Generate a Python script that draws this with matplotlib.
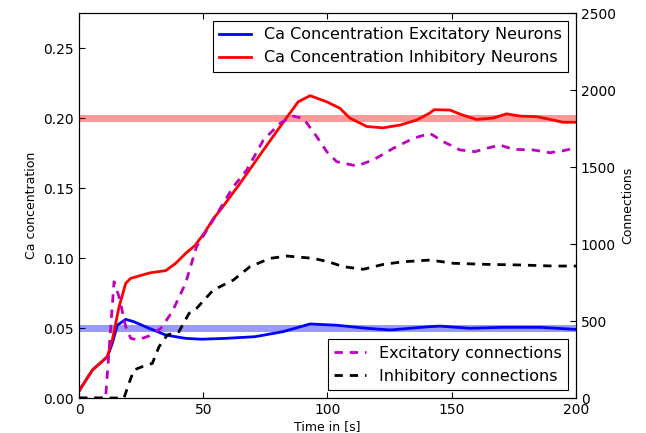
import matplotlib
matplotlib.use('Agg')
import matplotlib.pyplot as plt

# 数据
red_t = [0, 5.4, 11.4, 13.4, 16.1, 18.8, 20.8, 25.5, 28.8, 34.9, 38.9, 42.9, 46.7,
         50.5, 54, 57.4, 64.8, 72.8, 80.9, 88.2, 93, 99.7, 105, 109, 115.8, 122.3,
         129.2, 135.9, 141.2, 143, 149.3, 154.6, 160, 166.6, 172, 177.5, 184.2,
         190.8, 194.8, 200]
red_ca = [0.005, 0.020, 0.0295, 0.0414, 0.065, 0.082, 0.0855, 0.0879, 0.0895, 0.091,
          0.0962, 0.1033, 0.109, 0.118, 0.128, 0.1355, 0.1533, 0.1736, 0.1938,
          0.2116, 0.2160, 0.2116, 0.207, 0.200, 0.194, 0.193, 0.195, 0.1986, 0.2036,
          0.206, 0.2057, 0.202, 0.199, 0.200, 0.203, 0.2014, 0.201, 0.1986, 0.197,
          0.197]

blue_t = [0, 5.4, 11.4, 13.4, 15.4, 18.8, 22.1, 28.2, 34.9, 42.9, 49.4, 58.8, 70.8,
          82.1, 93, 103.7, 115.8, 125.2, 141.2, 145.3, 157.3, 170.6, 185.5, 200]
blue_ca = [0.005, 0.020, 0.0295, 0.039, 0.052, 0.0562, 0.0545, 0.0498, 0.045,
           0.0426, 0.042, 0.0426, 0.0438, 0.0474, 0.0529, 0.052, 0.0498, 0.0486,
           0.051, 0.0514, 0.0498, 0.0505, 0.0505, 0.049]

exc_t = [0, 10.7, 12.1, 14.1, 16.1, 18.8, 20.8, 23.5, 28.2, 32.9, 37.5, 42.9, 47.3,
         54, 62.1, 67.5, 74.2, 80.9, 86.2, 90.3, 95.7, 99.7, 103.7, 111.7, 118.4,
         126.5, 134.5, 141.2, 146.6, 153.3, 159.4, 164.1, 169.4, 174.8, 182.8,
         189.5, 194.9, 200]
exc_conn = [0, 0, 312, 755, 658, 463, 388, 377, 403, 452, 560, 746, 983, 1156,
            1372, 1481, 1675, 1784, 1831, 1816, 1697, 1600, 1535, 1507, 1546, 1622,
            1686, 1719, 1665, 1611, 1600, 1622, 1643, 1615, 1611, 1593, 1606, 1625]

inh_t = [0, 18.1, 20.1, 22.1, 25.5, 29.5, 32.2, 35.5, 40.2, 44.3, 47.3, 54, 62.1,
         68.8, 76.9, 83.6, 94.3, 100.3, 106.4, 114.4, 122.5, 130.5, 141.2, 150.6,
         164.1, 177.5, 190.9, 200]
inh_conn = [0, 0, 95, 182, 204, 225, 333, 409, 431, 550, 582, 701, 766, 853, 907,
            922, 907, 885, 853, 836, 868, 885, 896, 875, 868, 864, 857, 857]

target_exc = 0.05
target_inh = 0.2

plt.rcParams['xtick.direction'] = 'in'
plt.rcParams['ytick.direction'] = 'in'
plt.rcParams['xtick.top'] = True
plt.rcParams['xtick.major.size'] = 4
plt.rcParams['ytick.major.size'] = 4

fig = plt.figure(figsize=(6.46, 4.33), dpi=100)
ax = fig.add_axes([0.1223, 0.0808, 0.7693, 0.889])

ax.axhline(target_inh, color='red', alpha=0.4, linewidth=5)
ax.axhline(target_exc, color='blue', alpha=0.4, linewidth=5)
l1, = ax.plot(blue_t, blue_ca, color='blue', linewidth=2,
              label='Ca Concentration Excitatory Neurons')
l2, = ax.plot(red_t, red_ca, color='red', linewidth=2,
              label='Ca Concentration Inhibitory Neurons')
ax.set_xlim(0, 200)
ax.set_ylim(0, 0.275)
ax.set_yticks([0, 0.05, 0.10, 0.15, 0.20, 0.25])
ax.set_xticks([0, 50, 100, 150, 200])
ax.tick_params(labelsize=10)
ax.set_xlabel('Time in [s]', fontsize=9, labelpad=2)
ax.set_ylabel('Ca concentration', fontsize=9)
leg1 = ax.legend(handles=[l1, l2], loc='upper right', fontsize=11.5,
                 fancybox=False, edgecolor='black', framealpha=1)
leg1.get_frame().set_linewidth(0.8)

ax2 = ax.twinx()
l3, = ax2.plot(exc_t, exc_conn, color='m', linewidth=2, linestyle='--',
               dashes=(3, 2.5), label='Excitatory connections')
l4, = ax2.plot(inh_t, inh_conn, color='k', linewidth=2, linestyle='--',
               dashes=(3, 2.5), label='Inhibitory connections')
ax2.set_ylim(0, 2500)
ax2.set_yticks([0, 500, 1000, 1500, 2000, 2500])
ax2.tick_params(labelsize=10)
ax2.set_ylabel('Connections', fontsize=9)
leg2 = ax2.legend(handles=[l3, l4], loc='lower right', fontsize=11.5,
                  fancybox=False, edgecolor='black', framealpha=1)
leg2.get_frame().set_linewidth(0.8)

plt.savefig('out.png', dpi=100)
plt.close()
